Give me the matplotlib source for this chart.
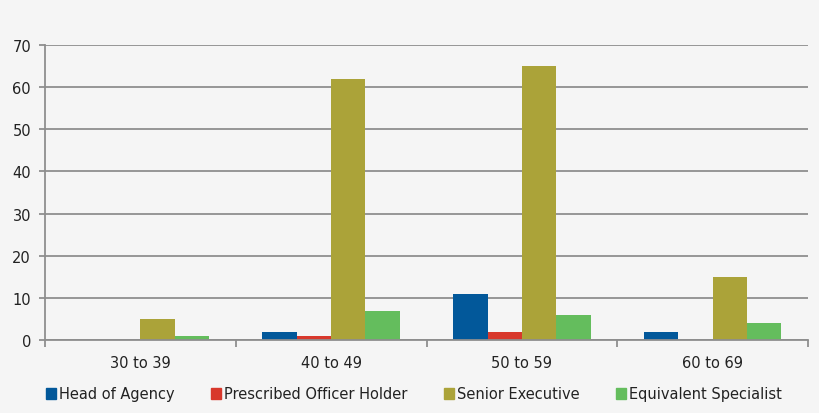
import numpy as np
from matplotlib import pyplot as plt
from matplotlib.patches import Patch

plt.rcParams['font.family'] = ['DejaVu Sans']

# data
age_groups = ["30 to 39", "40 to 49", "50 to 59", "60 to 69"]
head_of_agency = [0, 2, 11, 2]
prescribed_officer = [0, 1, 2, 0]
senior_executive = [5, 62, 65, 15]
equivalent_specialist = [1, 7, 6, 4]

series = [
    ("Head of Agency", head_of_agency, "#02589a"),
    ("Prescribed Officer Holder", prescribed_officer, "#d8382c"),
    ("Senior Executive", senior_executive, "#aba339"),
    ("Equivalent Specialist", equivalent_specialist, "#64bd5d"),
]

bg = "#f5f5f5"
grid_col = "#8e8e8e"

fig = plt.figure(figsize=(8.2, 4.14), dpi=100, facecolor=bg)
ax = fig.add_axes([45 / 820, 1 - 341 / 414, 763 / 820, 295 / 414])
ax.set_facecolor(bg)

x = np.arange(len(age_groups))
w = 0.18
for i, (name, vals, col) in enumerate(series):
    ax.bar(x + (i - 1.5) * w, vals, w, color=col, zorder=3, label=name)

ax.set_xlim(-0.5, len(age_groups) - 0.5)
ax.set_ylim(0, 70)
ax.set_yticks(range(0, 71, 10))
ax.yaxis.grid(True, color=grid_col, linewidth=1.3, zorder=0)

for s in ["top", "right"]:
    ax.spines[s].set_visible(False)
for s in ["left", "bottom"]:
    ax.spines[s].set_color(grid_col)
    ax.spines[s].set_linewidth(1.3)
    ax.spines[s].set_zorder(4)

ax.set_xticks(x)
ax.set_xticklabels(age_groups)
ax.set_xticks(np.arange(-0.5, len(age_groups)), minor=True)
ax.tick_params(axis="x", which="major", length=0, pad=11, labelsize=10.5, colors="#222222")
ax.tick_params(axis="x", which="minor", length=5, width=1.3, color=grid_col)
ax.tick_params(axis="y", length=4, width=1.3, color=grid_col, labelsize=10.5,
               labelcolor="#222222", pad=6)

handles = [Patch(color=c, label=n) for n, v, c in series]
fig.legend(handles=handles, loc="center", bbox_to_anchor=(414 / 820, 1 - 395 / 414),
           ncol=4, frameon=False, fontsize=10.5, handlelength=0.7, handleheight=0.7,
           handletextpad=0.2, columnspacing=2.5, labelcolor="#222222")

fig.savefig("out.png", dpi=100, facecolor=bg)
